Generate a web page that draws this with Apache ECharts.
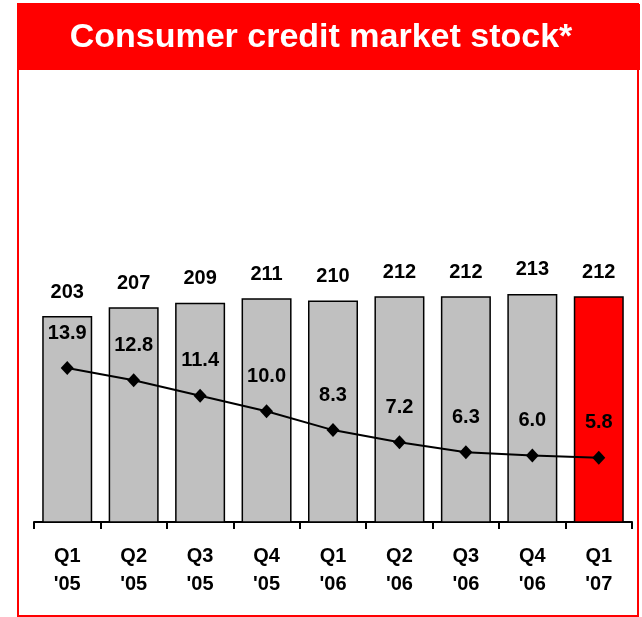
<!DOCTYPE html>
<html>
<head>
<meta charset="utf-8">
<script src="https://cdn.jsdelivr.net/npm/echarts@6/dist/echarts.min.js"></script>
<style>
  html, body { margin: 0; padding: 0; background: #fff; }
  #chart { width: 642px; height: 617px; }
</style>
</head>
<body>
<div id="chart"></div>
<script>
// 数据
var quarters = ["Q1\n'05", "Q2\n'05", "Q3\n'05", "Q4\n'05", "Q1\n'06", "Q2\n'06", "Q3\n'06", "Q4\n'06", "Q1\n'07"];
var stock = [203, 207, 209, 211, 210, 212, 212, 213, 212];
var growth = [13.9, 12.8, 11.4, 10.0, 8.3, 7.2, 6.3, 6.0, 5.8];

var font = 'Liberation Sans, Arial, sans-serif';

var myChart = echarts.init(document.getElementById('chart'));

var barData = stock.map(function (v, i) {
    return {
        value: v,
        itemStyle: { color: i === stock.length - 1 ? '#ff0000' : '#c0c0c0' }
    };
});

var option = {
    backgroundColor: '#fff',
    animation: false,
    title: {
        text: 'Consumer credit market stock*',
        left: 'center',
        top: 16,
        textStyle: { color: '#fff', fontSize: 34, fontWeight: 'bold', fontFamily: font }
    },
    graphic: [
        // 红色标题栏
        { type: 'rect', z: -1, shape: { x: 17, y: 4, width: 623, height: 66 }, style: { fill: '#ff0000' } },
        // 外框
        { type: 'rect', z: -1, shape: { x: 18, y: 4, width: 620, height: 612 }, style: { fill: 'none', stroke: '#ff0000', lineWidth: 2 } }
    ],
    grid: { left: 34, right: 10, top: 212, bottom: 95 },
    xAxis: {
        type: 'category',
        data: quarters,
        axisLine: { lineStyle: { color: '#000', width: 2 } },
        axisTick: { show: true, length: 7, lineStyle: { color: '#000', width: 2 } },
        axisLabel: {
            color: '#000', fontSize: 20, fontWeight: 'bold', fontFamily: font,
            lineHeight: 28, margin: 20
        }
    },
    yAxis: [
        { type: 'value', min: 110, max: 250, show: false, splitLine: { show: false } },
        { type: 'value', min: 0, max: 28, show: false, splitLine: { show: false } }
    ],
    series: [
        {
            name: 'stock',
            type: 'bar',
            data: barData,
            barWidth: 50,
            itemStyle: { borderColor: '#000', borderWidth: 1.5 },
            label: {
                show: true, position: 'top', distance: 14,
                color: '#000', fontSize: 20, fontWeight: 'bold', fontFamily: font
            }
        },
        {
            name: 'growth',
            type: 'line',
            yAxisIndex: 1,
            data: growth,
            symbol: 'diamond',
            symbolSize: [13, 14],
            itemStyle: { color: '#000' },
            lineStyle: { color: '#000', width: 2 },
            label: {
                show: true, position: 'top', distance: 18,
                color: '#000', fontSize: 20, fontWeight: 'bold', fontFamily: font,
                formatter: function (p) { return p.value.toFixed(1); }
            }
        }
    ]
};

myChart.setOption(option);
</script>
</body>
</html>
